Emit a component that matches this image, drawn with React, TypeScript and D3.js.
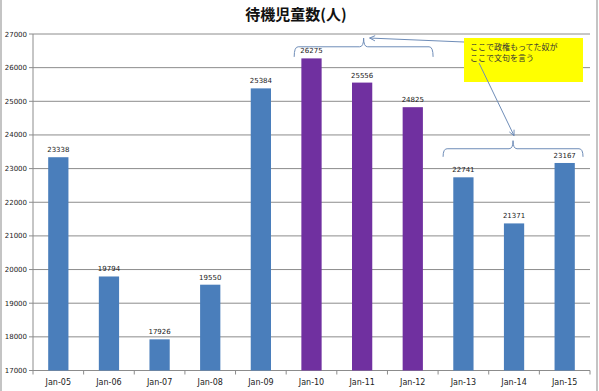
import React from "react";
import * as d3 from "d3";

const categories = ["Jan-05", "Jan-06", "Jan-07", "Jan-08", "Jan-09", "Jan-10", "Jan-11", "Jan-12", "Jan-13", "Jan-14", "Jan-15"];
const values = [23338, 19794, 17926, 19550, 25384, 26275, 25556, 24825, 22741, 21371, 23167];
const highlighted = ["Jan-10", "Jan-11", "Jan-12"];
const yTicks = [17000, 18000, 19000, 20000, 21000, 22000, 23000, 24000, 25000, 26000, 27000];
const title = "待機児童数(人)";
const noteLines = ["ここで政権もってた奴が", "ここで文句を言う"];

const W = 599;
const H = 391;
const margin = { left: 33, right: 9, top: 34, bottom: 20.5 };

function bracePath(x1: number, x2: number, yEnd: number, yLine: number, yTip: number) {
  const xm = (x1 + x2) / 2;
  const r = 4;
  return [
    `M${x1},${yEnd}`,
    `Q${x1},${yLine} ${x1 + r},${yLine}`,
    `L${xm - r},${yLine}`,
    `Q${xm},${yLine} ${xm},${yTip}`,
    `Q${xm},${yLine} ${xm + r},${yLine}`,
    `L${x2 - r},${yLine}`,
    `Q${x2},${yLine} ${x2},${yEnd}`,
  ].join(" ");
}

function arrowHead(x1: number, y1: number, x2: number, y2: number, size = 6) {
  const a = Math.atan2(y2 - y1, x2 - x1);
  const s = 0.45;
  const p1 = [x2 - size * Math.cos(a - s), y2 - size * Math.sin(a - s)];
  const p2 = [x2 - size * Math.cos(a + s), y2 - size * Math.sin(a + s)];
  return `M${p1[0]},${p1[1]} L${x2},${y2} L${p2[0]},${p2[1]}`;
}

export default function App() {
  const x = d3
    .scaleBand<string>()
    .domain(categories)
    .range([margin.left, W - margin.right])
    .paddingInner(0.6)
    .paddingOuter(0.3);
  const band = d3.scaleBand<string>().domain(categories).range([margin.left, W - margin.right]);
  const y = d3.scaleLinear().domain([17000, 27000]).range([H - margin.bottom, margin.top]);

  const step = band.step();
  const b1x1 = (band("Jan-10") as number) + 8;
  const b1x2 = (band("Jan-12") as number) + step - 5;
  const b2x1 = (band("Jan-13") as number) + 5;
  const b2x2 = (band("Jan-15") as number) + step - 7;

  const brace1 = { x1: b1x1, x2: b1x2, yEnd: y(26320), yLine: y(26620), yTip: y(26880) };
  const brace2 = { x1: b2x1, x2: b2x2, yEnd: y(23350), yLine: y(23590), yTip: y(23830) };
  const tip1x = (b1x1 + b1x2) / 2;
  const tip2x = (b2x1 + b2x2) / 2;

  const box = { x: 464, y: 38, w: 119, h: 44 };
  const a1 = { x1: box.x, y1: 42, x2: tip1x + 6, y2: brace1.yTip };
  const a2 = { x1: 479, y1: 63, x2: tip2x + 1, y2: brace2.yTip - 5 };

  const font = "'DejaVu Sans', Verdana, sans-serif";
  const cjk = "'Noto Sans CJK JP', sans-serif";

  return (
    <svg width={W} height={H} style={{ position: "absolute", left: 0, top: 0, background: "#fff" }}>
      <rect x={0} y={0} width={W} height={H} fill="#fff" />
      <line x1={1} x2={1} y1={0} y2={H} stroke="#b0b0b0" strokeWidth={1.5} />
      <line x1={597} x2={597} y1={0} y2={H} stroke="#b0b0b0" strokeWidth={1.5} />

      <text x={296} y={20} textAnchor="middle" fontFamily={cjk} fontWeight="bold" fontSize={15} fill="#111">
        {title}
      </text>

      {yTicks.map((t) => (
        <g key={t}>
          <line x1={margin.left} x2={W - margin.right} y1={y(t)} y2={y(t)} stroke="#8c8c8c" strokeWidth={1} />
          <line x1={margin.left - 4} x2={margin.left} y1={y(t)} y2={y(t)} stroke="#8c8c8c" />
          <text x={margin.left - 6} y={y(t) + 2.5} textAnchor="end" fontFamily={font} fontSize={7} fill="#222">
            {t}
          </text>
        </g>
      ))}

      <line x1={margin.left} x2={margin.left} y1={y(27000)} y2={y(17000)} stroke="#8c8c8c" />
      {categories.map((c) => (
        <line
          key={"t" + c}
          x1={band(c) as number}
          x2={band(c) as number}
          y1={y(17000)}
          y2={y(17000) + 4}
          stroke="#8c8c8c"
        />
      ))}
      <line x1={W - margin.right} x2={W - margin.right} y1={y(17000)} y2={y(17000) + 4} stroke="#8c8c8c" />

      {categories.map((c, i) => {
        const v = values[i];
        const bx = x(c) as number;
        const bw = x.bandwidth();
        return (
          <g key={c}>
            <rect
              x={bx}
              y={y(v)}
              width={bw}
              height={y(17000) - y(v)}
              fill={highlighted.includes(c) ? "#7030a0" : "#4a7ebb"}
            />
            <text x={bx + bw / 2} y={y(v) - 5} textAnchor="middle" fontFamily={font} fontSize={7} fill="#222">
              {v}
            </text>
            <text x={bx + bw / 2} y={y(17000) + 14} textAnchor="middle" fontFamily={font} fontSize={8} fill="#222">
              {c}
            </text>
          </g>
        );
      })}

      <path d={bracePath(brace1.x1, brace1.x2, brace1.yEnd, brace1.yLine, brace1.yTip)} fill="none" stroke="#6f8db8" strokeWidth={1} />
      <path d={bracePath(brace2.x1, brace2.x2, brace2.yEnd, brace2.yLine, brace2.yTip)} fill="none" stroke="#6f8db8" strokeWidth={1} />

      <rect x={box.x} y={box.y} width={box.w} height={box.h} fill="#ffff00" />
      {noteLines.map((l, i) => (
        <text key={l} x={box.x + 6} y={box.y + 11.5 + i * 11} fontFamily={cjk} fontSize={8} fill="#333">
          {l}
        </text>
      ))}

      <line x1={a1.x1} y1={a1.y1} x2={a1.x2} y2={a1.y2} stroke="#6f8db8" strokeWidth={1} />
      <path d={arrowHead(a1.x1, a1.y1, a1.x2, a1.y2)} fill="none" stroke="#6f8db8" strokeWidth={1} />
      <line x1={a2.x1} y1={a2.y1} x2={a2.x2} y2={a2.y2} stroke="#6f8db8" strokeWidth={1} />
      <path d={arrowHead(a2.x1, a2.y1, a2.x2, a2.y2)} fill="none" stroke="#6f8db8" strokeWidth={1} />
    </svg>
  );
}
